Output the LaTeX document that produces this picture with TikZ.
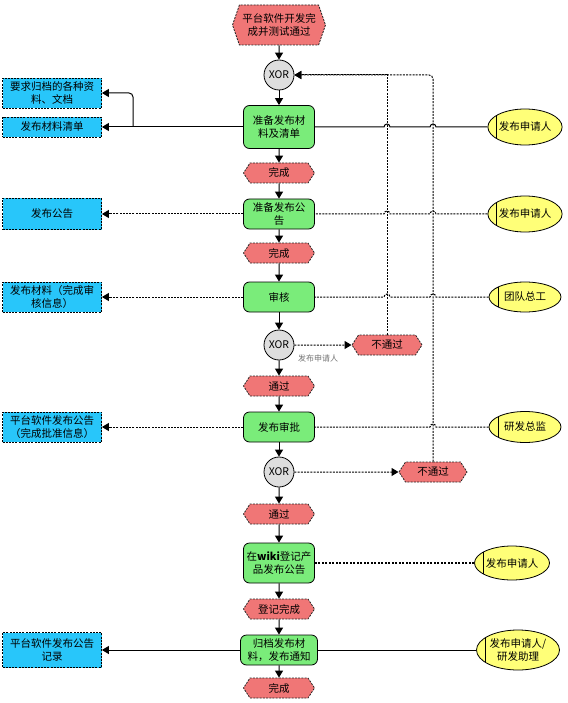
\documentclass[tikz,border=0pt]{standalone}
\usepackage{fontspec}
\newfontfamily\cjk{Noto Sans CJK SC}
\usetikzlibrary{shapes.symbols,shapes.geometric,arrows.meta}
\definecolor{evred}{RGB}{240,118,118}
\definecolor{tkgreen}{RGB}{122,236,122}
\definecolor{dblue}{RGB}{40,198,250}
\definecolor{oyellow}{RGB}{255,255,120}
\definecolor{xgray}{RGB}{222,222,222}

\begin{document}
\begin{tikzpicture}[x=1pt,y=-1pt]
\tikzstyle{every node}+=[inner sep=0pt, align=center, font=\cjk\fontsize{10.5}{12.5}\selectfont]
\tikzstyle{dots}=[dash pattern=on 2pt off 1.2pt]
\tikzstyle{event}=[signal, signal to=west and east, signal pointer angle=114, draw=black!85, dots, line width=0.8pt, fill=evred, minimum width=71pt, minimum height=20pt]
\tikzstyle{task}=[draw, line width=0.8pt, fill=tkgreen, rounded corners=6pt, minimum width=71pt, minimum height=30pt]
\tikzstyle{data}=[draw, dots, line width=0.8pt, fill=dblue, minimum width=99pt, minimum height=30pt]
\tikzstyle{org}=[ellipse, draw, line width=0.8pt, fill=oyellow, minimum width=72pt, minimum height=36pt,
  path picture={\draw ([xshift=9pt]path picture bounding box.north west) -- ([xshift=9pt]path picture bounding box.south west);}]
\tikzstyle{xor}=[circle, draw, line width=0.8pt, fill=xgray, minimum size=30pt]
\tikzstyle{flow}=[line width=1pt, -{Triangle[width=8pt,length=7pt]}]
\tikzstyle{dflow}=[flow, dots]
\tikzstyle{assoc}=[line width=1pt]
\useasboundingbox (0,0) rectangle (567,703);

\node[event, minimum width=93pt, minimum height=40pt, signal pointer angle=142] (e0) at (279,25) {平台软件开发完\\成并测试通过};
\node[xor] (x1) at (279,75) {XOR};
\node[task, minimum height=43pt] (t1) at (279,127) {准备发布材\\料及清单};
\node[event] (e1) at (279,173) {完成};
\node[task] (t2) at (279,214) {准备发布公\\告};
\node[event] (e2) at (279,253) {完成};
\node[task] (t3) at (279,297) {审核};
\node[xor] (x2) at (279,345) {XOR};
\node[event] (e3) at (279,386) {通过};
\node[task] (t4) at (279,427) {发布审批};
\node[xor] (x3) at (279,472) {XOR};
\node[event] (e4) at (279,514) {通过};
\node[task, minimum height=40pt] (t5) at (279,563) {在{\bfseries wiki}登记产\\品发布公告};
\node[event] (e5) at (279,609) {登记完成};
\node[task, minimum width=77pt] (t6) at (279,650) {归档发布材\\料，发布通知};
\node[event] (e6) at (279,688) {完成};

\node[event, minimum width=70pt] (r1) at (387,345) {不通过};
\node[event, minimum width=68pt] (r2) at (433,472) {不通过};
\node[font=\cjk\fontsize{8}{9}\selectfont, text=black!55] (lb) at (318,358) {发布申请人};

\node[data] (d1) at (52,93) {要求归档的各种资\\料、文档};
\node[data, minimum height=20pt] (d2) at (52,127) {发布材料清单};
\node[data, minimum height=31pt] (d3) at (52,214) {发布公告};
\node[data] (d4) at (52,297) {发布材料（完成审\\核信息）};
\node[data] (d5) at (52,427) {平台软件发布公告\\（完成批准信息）};
\node[data, minimum height=35pt] (d6) at (52,650) {平台软件发布公告\\记录};

\node[org] (o1) at (525,127) {发布申请人};
\node[org] (o2) at (525,214) {发布申请人};
\node[org, minimum height=30pt] (o3) at (525,297) {团队总工};
\node[org, minimum height=31pt] (o4) at (525,427) {研发总监};
\node[org, minimum width=75pt, minimum height=34pt] (o5) at (512,563) {发布申请人};
\node[org, minimum width=83pt, minimum height=40pt] (o6) at (518,650) {发布申请人/\\研发助理};

\draw[flow] (e0) -- (x1);
\draw[flow] (x1) -- (t1);
\draw[flow] (t1) -- (e1);
\draw[flow] (e1) -- (t2);
\draw[flow] (t2) -- (e2);
\draw[flow] (e2) -- (t3);
\draw[flow] (t3) -- (x2);
\draw[flow] (x2) -- (e3);
\draw[flow] (e3) -- (t4);
\draw[flow] (t4) -- (x3);
\draw[flow] (x3) -- (e4);
\draw[flow] (e4) -- (t5);
\draw[flow] (t5) -- (e5);
\draw[flow] (e5) -- (t6);
\draw[flow] (t6) -- (e6);

\draw[dflow] (x2) -- (r1);
\draw[dflow] (x3) -- (r2);
\draw[dflow] (r1.north) |- (x1.east);
\draw[dflow, rounded corners=4pt] (r2.north) |- (x1.east);

\coordinate (br) at (133,127);
\draw[flow] (t1) -- (d2);
\draw[flow, rounded corners=4pt] (br) |- (d1.east);
\draw[dflow] (t2) -- (d3);
\draw[dflow] (t3) -- (d4);
\draw[dflow] (t4) -- (d5);
\draw[flow] (t6) -- (d6);

\draw[assoc] (o1.west) -- ([xshift=3pt]o1.west -| r2) arc[start angle=0, end angle=180, radius=3pt]
  -- ([xshift=3pt]o1.west -| r1) arc[start angle=0, end angle=180, radius=3pt] -- (t1.east);
\draw[assoc, dots] (o2.west) -- ([xshift=3pt]o2.west -| r2) arc[start angle=0, end angle=180, radius=3pt]
  -- ([xshift=3pt]o2.west -| r1) arc[start angle=0, end angle=180, radius=3pt] -- (t2.east);
\draw[assoc, dots] (o3.west) -- ([xshift=3pt]o3.west -| r2) arc[start angle=0, end angle=180, radius=3pt]
  -- ([xshift=3pt]o3.west -| r1) arc[start angle=0, end angle=180, radius=3pt] -- (t3.east);
\draw[assoc, dots] (o4.west) -- ([xshift=3pt]o4.west -| r2) arc[start angle=0, end angle=180, radius=3pt] -- (t4.east);
\draw[assoc, line width=1.4pt, dash pattern=on 2pt off 1.5pt] (o5.west) -- (t5.east);
\draw[assoc] (o6.west) -- (t6.east);
\end{tikzpicture}
\end{document}
